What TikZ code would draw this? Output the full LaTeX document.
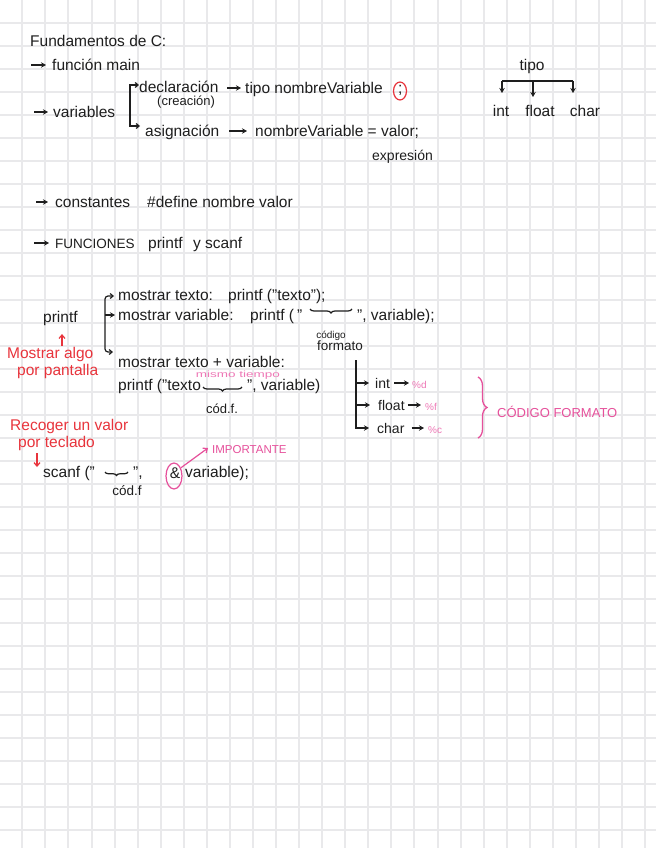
\documentclass[tikz,border=0pt]{standalone}
\usepackage{fontspec}
\setmainfont{Liberation Sans}
\usetikzlibrary{arrows.meta,decorations.pathreplacing,shapes.geometric}
\definecolor{ink}{RGB}{30,30,30}
\definecolor{redink}{RGB}{232,52,60}
\definecolor{pinkink}{RGB}{230,80,155}
\definecolor{lpink}{RGB}{238,120,182}
\definecolor{gridc}{RGB}{233,233,235}
\newcommand\myfs[1]{\fontsize{#1}{#1}\selectfont}
\begin{document}
\begin{tikzpicture}[x=1pt,y=-1pt,
  txt/.style={inner sep=0pt, anchor=mid west, yshift=-3pt, text=ink, font=\myfs{15.5}},
  smalltxt/.style={txt, font=\myfs{14}},
  redtxt/.style={txt, text=redink},
  pinktxt/.style={txt, text=pinkink},
  harr/.style={-{Stealth[length=5pt,width=5.5pt]}, line width=1.2pt, draw=ink},
  rarr/.style={-{Straight Barb[length=3.5pt,width=6pt]}, line width=1.2pt, draw=redink},
  parr/.style={-{Straight Barb[length=3.5pt,width=6pt]}, line width=1.2pt, draw=pinkink},
  brk/.style={{Straight Barb[length=3pt,width=5pt]}-{Straight Barb[length=3pt,width=5pt]}, line width=1.2pt, draw=ink},
  ubrace/.style={decorate, decoration={brace, mirror, amplitude=4pt}, line width=1.2pt, draw=ink},
  gridline/.style={draw=gridc, line width=2pt}
]
\useasboundingbox (0,0) rectangle (656,848);
\fill[white] (0,0) rectangle (656,848);
\foreach \i in {0,...,27} {\pgfmathsetmacro\gx{round(22.3+23.07*\i)}\draw[gridline] (\gx,0) -- (\gx,848);}
\foreach \k in {0,...,35} {\pgfmathsetmacro\gy{round(22.7+23.07*\k)}\draw[gridline] (0,\gy) -- (656,\gy);}

% ---- header
\node[txt] (title) at (30,41) {Fundamentos de C:};
\coordinate (a1) at (31,65);
\node[txt] (fmain) at (52,65) {función main};
\draw[harr, shorten >=6pt] (a1) -- (a1 -| fmain.west);

\coordinate (a2) at (34,112);
\node[txt] (vars) at (53,112) {variables};
\draw[harr, shorten >=5pt] (a2) -- (a2 -| vars.west);

\node[txt] (decl) at (139,87) {declaración};
\node[txt, font=\myfs{13}] (crea) at (157,100) {(creación)};
\node[txt] (asig) at (145,131) {asignación};
\coordinate (bt) at (139,85);
\coordinate (bb) at (140,126);
\draw[brk] (bt) -- (130,85) -- (130,126) -- (bb);

\coordinate (a3) at (227,88);
\node[txt] (tipo1) at (245,88) {tipo nombreVariable};
\draw[harr, shorten >=4pt] (a3) -- (a3 -| tipo1.west);
\node[txt] (semi) at (398,88) {;};
\node[draw=redink, ellipse, line width=1.2pt, minimum width=13pt, minimum height=18pt, inner sep=0pt] (semic) at (400,91) {};

\coordinate (a4) at (229,131);
\node[txt] (nv) at (255,131) {nombreVariable = valor;};
\draw[harr, shorten >=8pt] (a4) -- (a4 -| nv.west);
\node[txt, font=\myfs{14}] (expr) at (372,155) {expresión};

% ---- tipo tree
\node[txt, anchor=mid] (tipo2) at (532,65) {tipo};
\coordinate (tl) at (502,81);
\coordinate (tc) at (533,81);
\coordinate (tr) at (573,81);
\draw[line width=1.2pt, ink] (tl) -- (tr);
\draw[harr] (tl) -- ++(0,12);
\draw[harr] (tc) -- ++(0,16);
\draw[harr] (tr) -- ++(0,12);
\node[txt, anchor=mid] (int1) at (501,111) {int};
\node[txt, anchor=mid] (float1) at (540,111) {float};
\node[txt, anchor=mid] (char1) at (585,111) {char};

% ---- constantes / funciones
\coordinate (a5) at (36,202);
\node[txt] (const) at (55,202) {constantes};
\draw[harr, shorten >=7pt] (a5) -- (a5 -| const.west);
\node[txt] (define) at (147,202) {\#define nombre valor};

\coordinate (a6) at (34,243);
\node[txt, font=\myfs{13.5}] (func) at (55,243) {FUNCIONES};
\draw[harr, shorten >=6pt] (a6) -- (a6 -| func.west);
\node[txt] (pf) at (148,243) {printf};
\node[txt] (yy) at (193,243) {y};
\node[txt] (sc) at (205,243) {scanf};

% ---- printf
\node[txt] (printf) at (43,317) {printf};
\node[txt] (l1a) at (118,295) {mostrar texto:};
\node[txt] (l1b) at (228,295) {printf ("texto");};
\node[txt] (l2a) at (118,315) {mostrar variable:};
\node[txt] (l2b) at (250,315) {printf (\hspace{3pt}"};
\draw[ubrace] (310,309) -- (352,309);
\node[txt] (l2c) at (357,315) {", variable);};
\node[txt, font=\myfs{10}, anchor=mid] (cod1) at (331,333) {código};
\node[txt, font=\myfs{13.5}, anchor=mid] (fmt1) at (340,345) {formato};

\draw[brk, rounded corners=3pt] (114,296) -- (105,296) -- (105,352) -- (113,352);
\coordinate (bm) at (105,315);
\draw[harr, shorten >=3pt] (bm) -- (bm -| l2a.west);

\node[txt] (l3a) at (118,362) {mostrar texto + variable:};
\node[txt, text=lpink, font=\myfs{9}, anchor=mid] (mt) at (238,372) {\scalebox{1.5}[1]{mismo tiempo}};
\node[txt] (l3b) at (118,385) {printf ("texto};
\draw[ubrace] (203,387) -- (242,387);
\node[txt] (l3c) at (247,385) {", variable)};
\node[txt, font=\myfs{13}, anchor=mid] (codf1) at (222,408) {cód.f.};

\node[redtxt] (malgo) at (7,353) {Mostrar algo};
\node[redtxt] (ppant) at (17,370) {por pantalla};
\coordinate (rx) at (62,0);
\draw[rarr, shorten <=1pt, shorten >=8pt] (malgo.north -| rx) -- (printf.south -| rx);

% ---- int / float / char
\draw[harr] (356,360) -- (356,428) -- (369,428);
\draw[harr] (356,383) -- (369,383);
\draw[harr] (356,405) -- (370,405);
\node[smalltxt] (int2) at (375,383) {int};
\node[txt, text=lpink, font=\myfs{10}] (pd) at (412,383) {\%d};
\draw[harr] ([xshift=4pt,yshift=3pt]int2.mid east) -- ([xshift=-3pt,yshift=3pt]pd.mid west);
\node[smalltxt] (float2) at (378,405) {float};
\node[txt, text=lpink, font=\myfs{10}] (pff) at (425,405) {\%f};
\draw[harr] ([xshift=3pt,yshift=3pt]float2.mid east) -- ([xshift=-4pt,yshift=3pt]pff.mid west);
\node[smalltxt] (char2) at (377,428) {char};
\node[txt, text=lpink, font=\myfs{10}] (pc) at (428,428) {\%c};
\draw[harr] ([xshift=7pt,yshift=3pt]char2.mid east) -- ([xshift=-4pt,yshift=3pt]pc.mid west);
\draw[decorate, decoration={brace, amplitude=9pt}, line width=1.3pt, draw=pinkink] (478,377) -- (478,438);
\node[pinktxt, font=\myfs{13}] (cf) at (497,412) {CÓDIGO FORMATO};

% ---- scanf
\node[redtxt] (rec) at (10,425) {Recoger un valor};
\node[redtxt] (tecl) at (18,442) {por teclado};
\coordinate (rd1) at (37,453);
\coordinate (rd2) at (37,467);
\draw[rarr] (rd1) -- (rd2);
\node[txt] (scanf) at (43,472) {scanf ("};
\draw[ubrace, decoration={brace, mirror, amplitude=3.5pt}] (105,472) -- (128,472);
\node[txt] (q2) at (133,472) {",};
\node[txt, anchor=mid] (amp) at (175,473) {\&};
\node[txt] (varb) at (185,472) {variable);};
\node[txt, font=\myfs{13.5}, anchor=mid] (codf2) at (127,490) {cód.f};
\node[draw=pinkink, ellipse, line width=1.2pt, minimum width=16pt, minimum height=26pt, inner sep=0pt] (ampc) at (174,476) {};
\node[txt, text=pinkink, font=\myfs{11.5}] (imp) at (212,448) {IMPORTANTE};
\draw[parr] (ampc.50) -- ([xshift=-4pt,yshift=3pt]imp.mid west);
\end{tikzpicture}
\end{document}
